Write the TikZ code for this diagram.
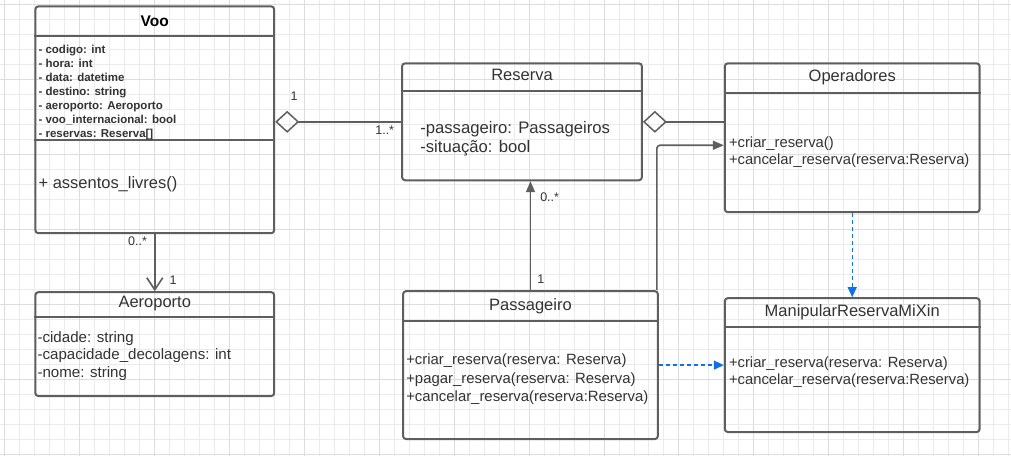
\documentclass[tikz,border=0pt]{standalone}
\usepackage{fontspec}
\setmainfont{Liberation Sans}
\usetikzlibrary{arrows.meta, positioning}

\definecolor{umlline}{HTML}{5E5E5E}
\definecolor{umltext}{HTML}{333333}
\definecolor{umlblue}{HTML}{1071E5}
\definecolor{gridminor}{HTML}{EBEBEB}
\definecolor{gridmajor}{HTML}{DDDDDD}

\tikzstyle{umlclass} = [rectangle, rounded corners=3pt, draw=umlline,
line width=2pt, anchor=north west, inner sep=0pt]
\tikzstyle{umlsep} = [draw=umlline, line width=2pt]
\tikzstyle{classname} = [anchor=base, text=umltext, font=\fontsize{16.5}{19}\selectfont]
\tikzstyle{members} = [anchor=west, align=left, inner sep=0pt, text=umltext]
\tikzstyle{mult} = [text=umltext, inner sep=1pt, font=\fontsize{12.5}{14}\selectfont]
\tikzstyle{arrow} = [draw=umlline, line width=1.6pt]
\tikzstyle{aggr} = [arrow, {Diamond[open, length=24pt, width=22pt, line width=1.5pt]}-]
\tikzstyle{assoc} = [arrow, -{Triangle[length=11pt, width=9pt]}, rounded corners=3pt]
\tikzstyle{navig} = [arrow, -{Straight Barb[length=12pt, width=16pt, line width=1.6pt]}]
\tikzstyle{depend} = [draw=umlblue, line width=1.3pt, dash pattern=on 4pt off 3pt,
-{Triangle[length=10pt, width=9pt, fill=umlblue]}]

\begin{document}
\begin{tikzpicture}[x=1pt, y=-1pt, font=\fontsize{14.8}{17.5}\selectfont]

% Background grid
\fill[white] (0,0) rectangle (1011,456);
\foreach \x in {4,19,...,1009} \draw[gridminor, line width=0.8pt] (\x,0) -- (\x,456);
\foreach \y in {4,19,...,454} \draw[gridminor, line width=0.8pt] (0,\y) -- (1011,\y);
\foreach \x in {4,79,...,979} \draw[gridmajor, line width=0.8pt] (\x,0) -- (\x,456);
\foreach \y in {4,79,...,454} \draw[gridmajor, line width=0.8pt] (0,\y) -- (1011,\y);
\useasboundingbox (0,0) rectangle (1011,456);

% Nodes
\node[umlclass, minimum width=239pt, minimum height=227pt] (voo) at (34,5) {};
\node[classname, text=black, font=\bfseries\fontsize{15.5}{18}\selectfont] (vooname)
at ([yshift=-21pt]voo.north) {Voo};
\draw[umlsep] ([yshift=-31pt]voo.north west) -- ([yshift=-31pt]voo.north east);
\draw[umlsep] ([yshift=-135pt]voo.north west) -- ([yshift=-135pt]voo.north east);
\node[members, font=\bfseries\fontsize{11.5}{14}\selectfont] (vooattr) at (38,92)
{- codigo: int\\- hora: int\\- data: datetime\\- destino: string\\
- aeroporto: Aeroporto\\- voo\_internacional: bool\\- reservas: Reserva[]};
\node[members, font=\fontsize{16.5}{19}\selectfont] (voometh) at (38,184)
{+ assentos\_livres()};

\node[umlclass, minimum width=240pt, minimum height=117pt] (reserva) at (401,62) {};
\node[classname] (reservaname) at ([yshift=-18pt]reserva.north) {Reserva};
\draw[umlsep] ([yshift=-29pt]reserva.north west) -- ([yshift=-29pt]reserva.north east);
\node[members, font=\fontsize{16.7}{19}\selectfont] (reservaattr) at (420,138.5)
{-passageiro: Passageiros\\-situação: bool};

\node[umlclass, minimum width=255pt, minimum height=149pt] (operadores) at (724,62) {};
\node[classname] (operadoresname) at ([yshift=-19pt]operadores.north) {Operadores};
\draw[umlsep] ([yshift=-31pt]operadores.north west) -- ([yshift=-31pt]operadores.north east);
\node[members, font=\fontsize{14.8}{17}\selectfont] (operadoresmeth) at (729,151.5)
{+criar\_reserva()\\+cancelar\_reserva(reserva:Reserva)};

\node[umlclass, minimum width=239pt, minimum height=104pt] (aeroporto) at (34,291) {};
\node[classname] (aeroportoname) at ([yshift=-16pt]aeroporto.north) {Aeroporto};
\draw[umlsep] ([yshift=-26pt]aeroporto.north west) -- ([yshift=-26pt]aeroporto.north east);
\node[members, font=\fontsize{15.1}{17.5}\selectfont] (aeroportoattr) at (37,355.5)
{-cidade: string\\-capacidade\_decolagens: int\\-nome: string};

\node[umlclass, minimum width=255pt, minimum height=148pt] (passageiro) at (402,290) {};
\node[classname] (passageironame) at ([yshift=-20pt]passageiro.north) {Passageiro};
\draw[umlsep] ([yshift=-31pt]passageiro.north west) -- ([yshift=-31pt]passageiro.north east);
\node[members, font=\fontsize{14.9}{18.5}\selectfont] (passageirometh) at (406,379.5)
{+criar\_reserva(reserva: Reserva)\\+pagar\_reserva(reserva: Reserva)\\
+cancelar\_reserva(reserva:Reserva)};

\node[umlclass, minimum width=255pt, minimum height=134pt] (mixin) at (724,297) {};
\node[classname] (mixinname) at ([yshift=-19pt]mixin.north) {ManipularReservaMiXin};
\draw[umlsep] ([yshift=-30pt]mixin.north west) -- ([yshift=-30pt]mixin.north east);
\node[members, font=\fontsize{14.8}{17}\selectfont] (mixinmeth) at (729,372.5)
{+criar\_reserva(reserva: Reserva)\\+cancelar\_reserva(reserva:Reserva)};

\coordinate (opin) at ([yshift=-7.5pt]operadores.west);

% Arrows
\draw[aggr] (voo.east |- reserva.west) --
node[mult, pos=0.15, above=20pt] {1}
node[mult, pos=0.87, below=2pt] {1..*} (reserva.west);
\draw[aggr] (reserva.east) -- (operadores.west |- reserva.east);
\draw[navig] (voo.south) --
node[mult, pos=0.12, left=6pt] {0..*}
node[mult, pos=0.81, right=13pt] {1} (aeroporto.north);
\draw[assoc] (passageiro.north) --
node[mult, pos=0.1, right=5pt] {1}
node[mult, pos=0.85, right=8pt] {0..*} (passageiro.north |- reserva.south);
\draw[assoc] ([xshift=-2pt]passageiro.north east) |- (opin);
\draw[depend] (operadores.south) -- (mixin.north);
\draw[depend] (passageiro.east) -- (mixin.west |- passageiro.east);

\end{tikzpicture}
\end{document}
